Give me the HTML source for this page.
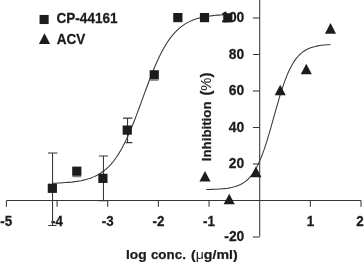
<!DOCTYPE html>
<html><head><meta charset="utf-8"><title>Inhibition</title>
<style>
html,body{margin:0;padding:0;background:#fff;}
body{width:364px;height:263px;overflow:hidden;}
svg{display:block;}
text{font-family:"Liberation Sans",Arial,Helvetica,sans-serif;font-weight:bold;font-size:13.4px;fill:#1e1b1c;font-kerning:none;stroke:#1e1b1c;stroke-width:0.25px;}
.ln path{stroke:#393536;stroke-width:1.05;fill:none;}
.sh rect,.sh path{fill:#1e1b1c;stroke:none;}
</style></head><body>
<svg width="364" height="263" viewBox="0 0 364 263">
<rect width="364" height="263" fill="#fff"/>
<g class="lb">
<text transform="translate(6.20,225.90) scale(1,1.055)" text-anchor="middle">-5</text>
<text transform="translate(57.06,225.90) scale(1,1.055)" text-anchor="middle">-4</text>
<text transform="translate(107.72,225.90) scale(1,1.055)" text-anchor="middle">-3</text>
<text transform="translate(158.38,225.90) scale(1,1.055)" text-anchor="middle">-2</text>
<text transform="translate(209.04,225.90) scale(1,1.055)" text-anchor="middle">-1</text>
<text transform="translate(310.36,225.90) scale(1,1.055)" text-anchor="middle">1</text>
<text transform="translate(360.02,225.90) scale(1,1.055)" text-anchor="middle">2</text>
<text transform="translate(244.30,22.40) scale(1.035,1.055)" text-anchor="end">100</text>
<text transform="translate(244.30,58.90) scale(1.035,1.055)" text-anchor="end">80</text>
<text transform="translate(244.30,95.40) scale(1.035,1.055)" text-anchor="end">60</text>
<text transform="translate(244.30,131.90) scale(1.035,1.055)" text-anchor="end">40</text>
<text transform="translate(244.30,168.00) scale(1.035,1.055)" text-anchor="end">20</text>
<text transform="translate(244.30,240.50) scale(1.035,1.055)" text-anchor="end">-20</text>
<text transform="translate(56.50,23.20) scale(1.012,1.055)" font-size="13.5">CP-44161</text>
<text transform="translate(56.80,44.40) scale(1.012,1.055)" font-size="13.5">ACV</text>
<text transform="translate(125.90,258.75) scale(1.03,0.94)" font-size="13.8">log</text>
<text transform="translate(150.90,258.75) scale(1,1.0)" font-size="12.9">conc.</text>
<text transform="translate(191.00,258.75) scale(1.055,0.94)" font-size="13.8">(<tspan font-weight="normal" stroke="none">μ</tspan>g/ml)</text>
<text transform="translate(211.40,161.20) rotate(-90) scale(0.992,0.95)" font-size="13.4">Inhibition</text>
<text transform="translate(211.00,95.60) rotate(-90) scale(1.1,1.04)" font-size="13.6">(<tspan font-weight="normal" stroke-width="0.1">%</tspan>)</text>
</g>
<g class="ln">
<path d="M6.5,200.4 H361.0 M259.7,0 V236.5" />
<path d="M6.40,200.4 V206.8"/>
<path d="M57.06,200.4 V206.8"/>
<path d="M107.72,200.4 V206.8"/>
<path d="M158.38,200.4 V206.8"/>
<path d="M209.04,200.4 V206.8"/>
<path d="M310.36,200.4 V206.8"/>
<path d="M361.02,200.4 V206.8"/>
<path d="M252.9,18.00 H259.7"/>
<path d="M252.9,54.50 H259.7"/>
<path d="M252.9,91.00 H259.7"/>
<path d="M252.9,127.50 H259.7"/>
<path d="M252.9,164.00 H259.7"/>
<path d="M252.9,200.50 H259.7"/>
<path d="M252.9,237.00 H259.7"/>
<path d="M52.55,153.0 V225.4 M48.0,153.0 H57.5 M48.2,225.4 H56.4"/>
<path d="M103.45,156.0 V200.6 M98.95,156.0 H107.95 M98.95,200.6 H107.95"/>
<path d="M127.55,118.1 V142.6 M123.1,118.1 H132.4 M125.6,142.6 H132.4"/>
<path d="M72.4,176.7 H81.2" stroke-opacity="0.75"/>
<path d="M150.2,80.2 H158.4" stroke-opacity="0.75"/>
<path d="M53.00,183.25 L55.54,183.16 L58.07,183.05 L60.61,182.92 L63.14,182.77 L65.68,182.60 L68.22,182.39 L70.75,182.15 L73.29,181.86 L75.83,181.52 L78.36,181.13 L80.90,180.67 L83.43,180.13 L85.97,179.49 L88.51,178.75 L91.04,177.89 L93.58,176.88 L96.12,175.71 L98.65,174.36 L101.19,172.79 L103.72,170.98 L106.26,168.90 L108.80,166.52 L111.33,163.81 L113.87,160.73 L116.41,157.27 L118.94,153.39 L121.48,149.08 L124.01,144.33 L126.55,139.15 L129.09,133.54 L131.62,127.55 L134.16,121.22 L136.70,114.61 L139.23,107.79 L141.77,100.86 L144.30,93.90 L146.84,87.00 L149.38,80.26 L151.91,73.75 L154.45,67.55 L156.99,61.72 L159.52,56.28 L162.06,51.28 L164.59,46.71 L167.13,42.57 L169.67,38.87 L172.20,35.56 L174.74,32.64 L177.28,30.06 L179.81,27.81 L182.35,25.84 L184.88,24.13 L187.42,22.65 L189.96,21.38 L192.49,20.28 L195.03,19.33 L197.57,18.52 L200.10,17.83 L202.64,17.23 L205.17,16.73 L207.71,16.29 L210.25,15.92 L212.78,15.61 L215.32,15.34 L217.86,15.11 L220.39,14.92 L222.93,14.75 L225.46,14.61 L228.00,14.49"/>
<path d="M206.30,189.52 L208.10,189.48 L209.90,189.44 L211.70,189.39 L213.50,189.33 L215.30,189.25 L217.10,189.17 L218.90,189.06 L220.70,188.94 L222.50,188.80 L224.30,188.62 L226.10,188.41 L227.90,188.16 L229.70,187.87 L231.50,187.52 L233.30,187.10 L235.10,186.61 L236.90,186.02 L238.70,185.33 L240.50,184.51 L242.30,183.54 L244.10,182.40 L245.90,181.07 L247.70,179.51 L249.50,177.69 L251.30,175.58 L253.10,173.14 L254.90,170.35 L256.70,167.16 L258.50,163.57 L260.30,159.54 L262.10,155.06 L263.90,150.16 L265.70,144.83 L267.50,139.13 L269.30,133.12 L271.10,126.86 L272.90,120.44 L274.70,113.97 L276.50,107.55 L278.30,101.27 L280.10,95.22 L281.90,89.48 L283.70,84.12 L285.50,79.16 L287.30,74.64 L289.10,70.56 L290.90,66.91 L292.70,63.69 L294.50,60.85 L296.30,58.38 L298.10,56.23 L299.90,54.38 L301.70,52.79 L303.50,51.44 L305.30,50.28 L307.10,49.29 L308.90,48.46 L310.70,47.75 L312.50,47.15 L314.30,46.65 L316.10,46.22 L317.90,45.87 L319.70,45.57 L321.50,45.31 L323.30,45.10 L325.10,44.92 L326.90,44.77 L328.70,44.65 L330.50,44.54"/>
</g>
<g class="sh">
<rect x="47.75" y="183.70" width="9.2" height="9.2"/>
<rect x="72.20" y="166.60" width="9.2" height="9.2"/>
<rect x="98.30" y="173.75" width="9.2" height="9.2"/>
<rect x="122.65" y="125.50" width="9.2" height="9.2"/>
<rect x="149.65" y="70.20" width="9.2" height="9.2"/>
<rect x="173.25" y="13.00" width="9.2" height="9.2"/>
<rect x="199.90" y="13.00" width="9.2" height="9.2"/>
<rect x="223.20" y="13.20" width="9.2" height="9.2"/>
<rect x="39.55" y="14.95" width="9.1" height="9.1"/>
<path d="M330.5,23.1 L336.05,33.7 H324.95 Z"/>
<path d="M306.3,63.7 L311.85,74.3 H300.75 Z"/>
<path d="M280.2,84.7 L285.75,95.3 H274.65 Z"/>
<path d="M205,171.0 L210.55,181.6 H199.45 Z"/>
<path d="M255.9,166.6 L261.45,177.2 H250.35 Z"/>
<path d="M229.2,193.7 L234.75,204.29999999999998 H223.64999999999998 Z"/>
<path d="M44.5,33.3 L50.1,43.9 H38.9 Z"/>
</g>
</svg>
</body></html>
